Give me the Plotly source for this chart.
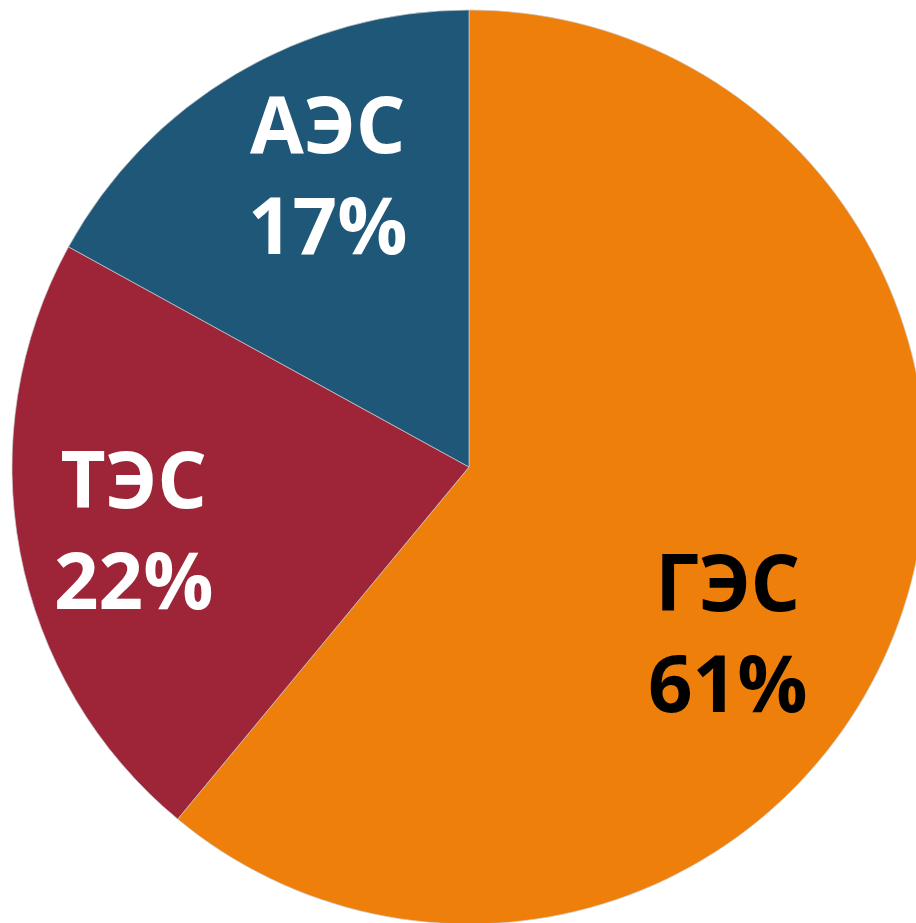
import math
import plotly.graph_objects as go

labels = ["ГЭС", "ТЭС", "АЭС"]
values = [61, 22, 17]
colors = ["#EE7F0B", "#9D2537", "#1F5778"]
text_colors = ["#000000", "#FFFFFF", "#FFFFFF"]

# label placement (layout): angular offset from slice bisector (deg), radial fraction
label_angle_offset = [13.3, -0.3, 4.6]
label_radius_frac = [0.674, 0.748, 0.704]

W, H = 926, 924
LEFT, TOP, R = 12, 10, 457
FONT_SIZE = 78
Y_SHIFT = -4  # px, visual centring of the two-line block

fig = go.Figure(go.Pie(
    labels=labels,
    values=values,
    sort=False,
    direction="clockwise",
    rotation=0,
    marker=dict(colors=colors, line=dict(color="rgba(205,205,205,0.7)", width=1)),
    textinfo="none",
    hoverinfo="skip",
    showlegend=False,
    domain=dict(x=[LEFT / W, (LEFT + 2 * R) / W], y=[1 - (TOP + 2 * R) / H, 1 - TOP / H]),
))

cx, cy = LEFT + R, TOP + R
total = sum(values)
cum = 0.0
annotations = []
for i, (lab, v) in enumerate(zip(labels, values)):
    bis = (cum + v / 2) / total * 360.0
    cum += v
    th = math.radians(bis + label_angle_offset[i])
    r = label_radius_frac[i] * R
    px = cx + r * math.sin(th)
    py = cy - r * math.cos(th) + Y_SHIFT
    pct = f"{round(100 * v / total)}%"
    annotations.append(dict(
        text=f"{lab}<br>{pct}", x=px / W, y=1 - py / H,
        xref="paper", yref="paper", xanchor="center", yanchor="middle",
        align="center", showarrow=False,
        font=dict(family="Open Sans", size=FONT_SIZE, color=text_colors[i], weight="bold"),
    ))

fig.update_layout(
    width=W, height=H,
    margin=dict(l=0, r=0, t=0, b=0),
    paper_bgcolor="white",
    plot_bgcolor="white",
    annotations=annotations,
)

fig.write_html(
    "out.html",
    post_script="document.body.style.margin='0';document.body.style.overflow='hidden';document.documentElement.style.overflow='hidden';",
)
